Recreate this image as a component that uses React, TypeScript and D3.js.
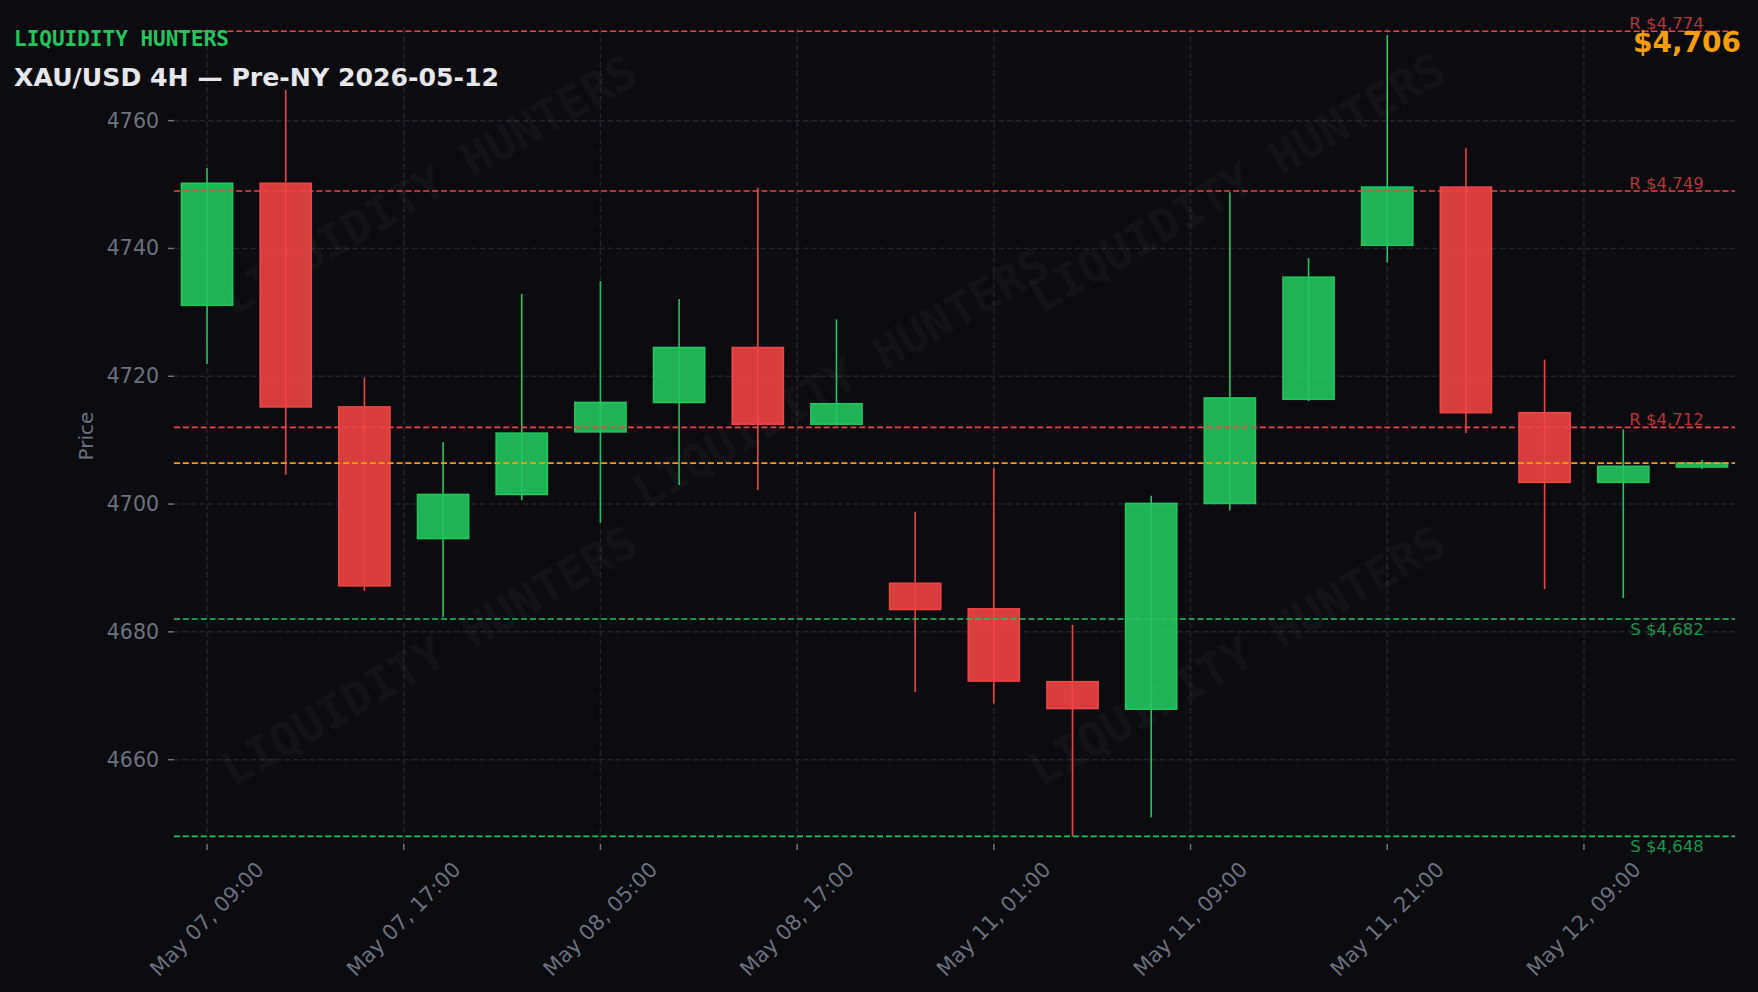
import React from "react";
import * as d3 from "d3";

// ---- data ----
const candleTimes = [
  "May 07, 09:00", "May 07, 13:00", "May 07, 17:00", "May 07, 21:00",
  "May 08, 01:00", "May 08, 05:00", "May 08, 09:00", "May 08, 13:00",
  "May 08, 17:00", "May 08, 21:00", "May 11, 01:00", "May 11, 05:00",
  "May 11, 09:00", "May 11, 13:00", "May 11, 17:00", "May 11, 21:00",
  "May 12, 01:00", "May 12, 05:00", "May 12, 09:00", "May 12, 13:00",
];
const opens = [4731.1, 4750.2, 4715.2, 4694.6, 4701.5, 4711.3, 4715.9, 4724.5, 4712.5, 4687.6, 4683.6, 4672.2, 4667.9, 4700.1, 4716.4, 4740.5, 4749.6, 4714.3, 4703.4, 4705.8];
const highs = [4752.6, 4764.8, 4719.8, 4709.7, 4732.9, 4734.9, 4732.1, 4749.5, 4728.9, 4698.8, 4705.7, 4681.1, 4701.3, 4748.8, 4738.5, 4773.4, 4755.7, 4722.6, 4711.7, 4706.9];
const lows = [4721.9, 4704.6, 4686.4, 4682.3, 4700.6, 4697.1, 4703.0, 4702.2, 4712.3, 4670.6, 4668.8, 4648.0, 4651.0, 4699.0, 4716.1, 4737.8, 4711.1, 4686.7, 4685.3, 4705.5];
const closes = [4750.2, 4715.2, 4687.2, 4701.5, 4711.1, 4715.9, 4724.5, 4712.5, 4715.7, 4683.5, 4672.3, 4668.0, 4700.1, 4716.6, 4735.5, 4749.6, 4714.3, 4703.4, 4705.9, 4706.4];

const resistanceLevels = [4774, 4749, 4712];
const supportLevels = [4682, 4648];
const currentPrice = 4706.4;

const xTickPositions = [0, 2.5, 5, 7.5, 10, 12.5, 15, 17.5];
const xTickLabels = ["May 07, 09:00", "May 07, 17:00", "May 08, 05:00", "May 08, 17:00", "May 11, 01:00", "May 11, 09:00", "May 11, 21:00", "May 12, 09:00"];
const yTicks = [4660, 4680, 4700, 4720, 4740, 4760];

const brandText = "LIQUIDITY HUNTERS";
const titleText = "XAU/USD 4H — Pre-NY 2026-05-12";
const yAxisLabel = "Price";

// ---- layout / style ----
const W = 1758;
const H = 992;
const AX = { left: 174, right: 1735, top: 28, bottom: 844 };
const BG = "#0b0b10";
const GREEN = "#22c55e";
const RED = "#ef4444";
const ORANGE = "#f59e0b";
const TICK = "#6b7280";
const GRID = "#22232c";
const SANS = "'DejaVu Sans', sans-serif";
const MONO = "'DejaVu Sans Mono', monospace";
const watermarks: [number, number][] = [
  [429, 185], [841, 378], [1237, 183], [429, 656], [1237, 656],
];

const fmtMoney = (v: number) => "$" + d3.format(",.0f")(v);

export default function App() {
  const x = d3.scaleLinear().domain([-0.42, 19.42]).range([AX.left, AX.right]);
  const y = d3.scaleLinear().domain([4646.8, 4774.5]).range([AX.bottom, AX.top]);
  const step = x(1) - x(0);
  const bw = step * 0.65;

  const candles = candleTimes.map((t, i) => ({
    t, i, o: opens[i], h: highs[i], l: lows[i], c: closes[i],
  }));

  const xFs = 21;
  const xLabelLen = 7.215 * xFs;
  const xLabelH = 1.164 * xFs;
  const xBox = (xLabelLen + xLabelH) * Math.SQRT1_2;
  const xLabelTop = AX.bottom + 13;

  return (
    <svg width={W} height={H} style={{ position: "absolute", left: 0, top: 0, display: "block" }}>
      <rect x={0} y={0} width={W} height={H} fill={BG} />
      {/* grid */}
      <g>
        {yTicks.map((v) => (
          <line key={"gy" + v} x1={AX.left} x2={AX.right} y1={y(v)} y2={y(v)} stroke={GRID} strokeWidth={1.5} strokeDasharray="5.5 3" />
        ))}
        {xTickPositions.map((v) => (
          <line key={"gx" + v} x1={x(v)} x2={x(v)} y1={AX.top} y2={AX.bottom} stroke={GRID} strokeWidth={1.5} strokeDasharray="5.5 3" />
        ))}
      </g>
      {/* watermark */}
      <g>
        {watermarks.map(([cx, cy], k) => (
          <text key={"wm" + k} x={cx} y={cy} transform={`rotate(-30 ${cx} ${cy})`} textAnchor="middle" dominantBaseline="central"
            fontFamily={MONO} fontWeight="bold" fontSize={46} fill="#ffffff" fillOpacity={0.05}>
            {brandText}
          </text>
        ))}
      </g>
      {/* candles */}
      <g>
        {candles.map((d) => {
          const up = d.c >= d.o;
          const col = up ? GREEN : RED;
          const top = y(Math.max(d.o, d.c));
          const bot = y(Math.min(d.o, d.c));
          return (
            <g key={"c" + d.i}>
              <line x1={x(d.i)} x2={x(d.i)} y1={y(d.h)} y2={y(d.l)} stroke={col} strokeWidth={1.6} />
              <rect x={x(d.i) - bw / 2} y={top} width={bw} height={Math.max(bot - top, 0.8)} fill={col} fillOpacity={0.9} stroke={col} strokeWidth={1.6} />
            </g>
          );
        })}
      </g>
      {/* levels */}
      <g>
        {resistanceLevels.map((v) => (
          <g key={"r" + v}>
            <line x1={AX.left} x2={AX.right} y1={y(v)} y2={y(v)} stroke={RED} strokeWidth={1.6} strokeDasharray="6 2.9" />
            <text x={AX.left + 0.98 * (AX.right - AX.left)} y={y(v) - 2} textAnchor="end" fontFamily={SANS} fontSize={16.5} fill={RED} fillOpacity={0.75}>
              {"R " + fmtMoney(v)}
            </text>
          </g>
        ))}
        {supportLevels.map((v) => (
          <g key={"s" + v}>
            <line x1={AX.left} x2={AX.right} y1={y(v)} y2={y(v)} stroke={GREEN} strokeWidth={1.6} strokeDasharray="6 2.9" />
            <text x={AX.left + 0.98 * (AX.right - AX.left)} y={y(v) + 16} textAnchor="end" fontFamily={SANS} fontSize={16.5} fill={GREEN} fillOpacity={0.75}>
              {"S " + fmtMoney(v)}
            </text>
          </g>
        ))}
        <line x1={AX.left} x2={AX.right} y1={y(currentPrice)} y2={y(currentPrice)} stroke={ORANGE} strokeWidth={1.6} strokeDasharray="6 2.9" />
      </g>
      {/* y axis */}
      <g>
        {yTicks.map((v) => (
          <g key={"yt" + v}>
            <line x1={AX.left - 6} x2={AX.left} y1={y(v)} y2={y(v)} stroke={TICK} strokeWidth={1.5} />
            <text x={AX.left - 15} y={y(v)} textAnchor="end" dominantBaseline="central" fontFamily={SANS} fontSize={20.5} fill={TICK}>
              {v}
            </text>
          </g>
        ))}
        <text x={86} y={(AX.top + AX.bottom) / 2} transform={`rotate(-90 86 ${(AX.top + AX.bottom) / 2})`} textAnchor="middle" dominantBaseline="central" fontFamily={SANS} fontSize={20} fill={TICK}>
          {yAxisLabel}
        </text>
      </g>
      {/* x axis */}
      <g>
        {xTickPositions.map((v, k) => {
          const cx = x(v);
          const cy = xLabelTop + xBox / 2;
          return (
            <g key={"xt" + v}>
              <line x1={cx} x2={cx} y1={AX.bottom} y2={AX.bottom + 6} stroke={TICK} strokeWidth={1.5} />
              <text x={cx} y={cy} transform={`rotate(-45 ${cx} ${cy})`} textAnchor="middle" dominantBaseline="central" fontFamily={SANS} fontSize={xFs} fill={TICK}>
                {xTickLabels[k]}
              </text>
            </g>
          );
        })}
      </g>
      {/* header */}
      <text x={14} y={45.5} fontFamily={MONO} fontWeight="bold" fontSize={21} fill={GREEN}>{brandText}</text>
      <text x={14} y={86} fontFamily={SANS} fontWeight="bold" fontSize={25.2} fill="#e5e7eb">{titleText}</text>
      <text x={1741} y={51.5} textAnchor="end" fontFamily={SANS} fontWeight="bold" fontSize={28} fill={ORANGE}>{fmtMoney(currentPrice)}</text>
    </svg>
  );
}
